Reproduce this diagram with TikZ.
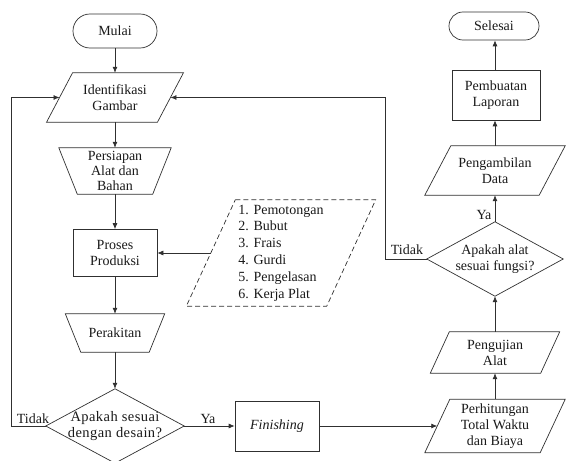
\documentclass[tikz,border=0pt]{standalone}
\usepackage{fontspec}
\setmainfont{Liberation Serif}
\usetikzlibrary{arrows.meta}
\definecolor{ln}{HTML}{303030}
\newcommand{\paraol}[3][]{\draw[ol,#1] ([xshift=#3]#2.north west) -- ([xshift=#3]#2.north east) -- ([xshift=-#3]#2.south east) -- ([xshift=-#3]#2.south west) -- cycle;}
\newcommand{\trapol}[2]{\draw[ol] ([xshift=-#2]#1.north west) -- ([xshift=#2]#1.north east) -- ([xshift=-#2]#1.south east) -- ([xshift=#2]#1.south west) -- cycle;}
\newcommand{\diaol}[1]{\draw[ol] (#1.north) -- (#1.east) -- (#1.south) -- (#1.west) -- cycle;}
\begin{document}
\begin{tikzpicture}[x=1pt,y=1pt,
  txt/.style={font=\fontsize{14}{16}\selectfont, align=center, inner sep=0pt, text=black!90},
  ol/.style={draw=ln, line width=0.7pt},
  boxn/.style={txt, draw=ln, line width=0.7pt, minimum width=#1},
  ghost/.style={txt, minimum width=#1},
  arr/.style={draw=ln, line width=0.7pt, -{Latex[length=6pt,width=5pt]}},
  lbl/.style={font=\fontsize{14}{16}\selectfont, inner sep=0pt, text=black!90}]
\useasboundingbox (0,0) rectangle (566,461);
\clip (0,0) rectangle (566,461);
% left column
\node[boxn=84pt, minimum height=34pt, rounded corners=16.9pt] (mulai) at (115,430) {Mulai};
\node[ghost=110.5pt, minimum height=49pt] (ident) at (115,363.5) {Identifikasi\\Gambar};
\paraol{ident}{13pt}
\node[ghost=93.5pt, minimum height=46pt, font=\fontsize{14}{15.3}\selectfont] (siap) at (115,290) {Persiapan\\Alat dan\\Bahan};
\trapol{siap}{9.25pt}
\node[boxn=84pt, minimum height=47pt] (proses) at (115,208) {Proses\\Produksi};
\node[ghost=83.5pt, minimum height=38pt] (rakit) at (115,128) {Perakitan};
\trapol{rakit}{7.75pt}
\node[ghost=138pt, minimum height=74pt, font=\fontsize{14.5}{16}\selectfont\addfontfeature{LetterSpace=3}] (d1) at (115,35) {Apakah sesuai\\dengan desain?};
\diaol{d1}
% list
\node[ghost=140pt, minimum height=106pt, align=left, font=\fontsize{14}{16.8}\selectfont] (list) at (281,208) {1. Pemotongan\\2. Bubut\\3. Frais\\4. Gurdi\\5. Pengelasan\\6. Kerja Plat};
\paraol[dashed, dash pattern=on 5pt off 3pt]{list}{24.5pt}
% bottom
\node[boxn=84pt, minimum height=50pt] (fin) at (277,35) {\itshape Finishing};
\node[ghost=115pt, minimum height=53pt] (hitung) at (495,35) {Perhitungan\\Total Waktu\\dan Biaya};
\paraol{hitung}{12.5pt}
% right column
\node[ghost=110pt, minimum height=41pt] (uji) at (495,108.5) {Pengujian\\Alat};
\paraol{uji}{9.5pt}
\node[ghost=136pt, minimum height=74pt] (d2) at (495,202) {Apakah alat\\sesuai fungsi?};
\diaol{d2}
\node[ghost=114pt, minimum height=49pt] (ambil) at (495,290.5) {Pengambilan\\Data};
\paraol{ambil}{13pt}
\node[boxn=88pt, minimum height=50pt] (lapor) at (496,366) {Pembuatan\\Laporan};
\node[boxn=90pt, minimum height=28pt, rounded corners=13.9pt] (selesai) at (494,435) {Selesai};
% connectors
\draw[arr] (mulai) -- (ident);
\draw[arr] (ident) -- (siap);
\draw[arr] (siap) -- (proses);
\draw[arr] (proses) -- (rakit);
\draw[arr] (rakit) -- (d1.north);
\draw[arr] (list.west) -- (proses.east);
\draw[arr] (d1.east) -- (fin.west);
\draw[arr] (fin.east) -- (hitung.west);
\draw[arr] (hitung.north) -- (uji.south);
\draw[arr] (uji.north) -- (d2.south);
\draw[arr] (d2.north) -- (ambil.south);
\draw[arr] (ambil.north) -- (ambil.north |- lapor.south);
\draw[arr] (lapor.north -| ambil.north) -- (ambil.north |- selesai.south);
\coordinate (lx) at (11,0);
\coordinate (rx) at (385,0);
\draw[arr] (d1.west) -- (d1.west -| lx) |- (ident.west);
\draw[arr] (d2.west) -- (d2.west -| rx) |- (ident.east);
% labels
\node[lbl] (t1) at (33,42) {Tidak};
\node[lbl] (t2) at (407,211) {Tidak};
\node[lbl] (y1) at (208,42) {Ya};
\node[lbl] (y2) at (484,246) {Ya};
\end{tikzpicture}
\end{document}
